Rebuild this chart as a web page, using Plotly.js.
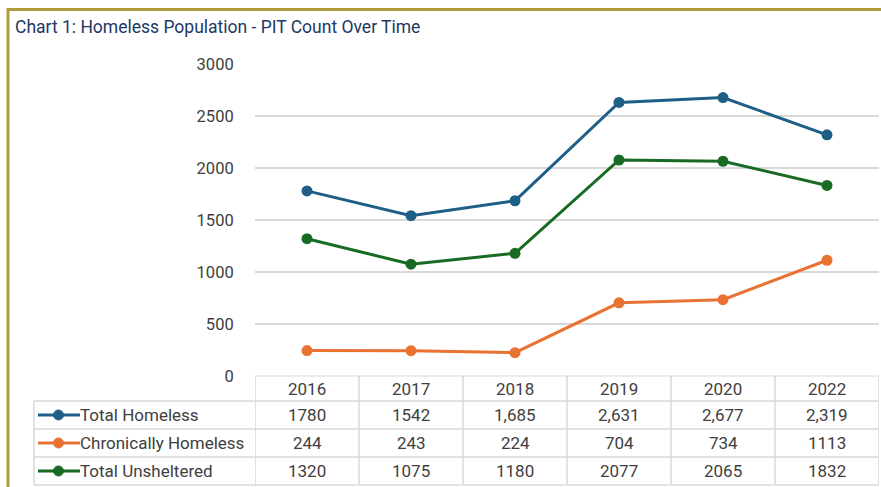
<!DOCTYPE html>
<html>
<head>
<meta charset="utf-8">
<script src="https://cdn.plot.ly/plotly-3.0.1.min.js"></script>
<style>html,body{margin:0;padding:0;background:#fff;}#chart{width:881px;height:487px;}</style>
</head>
<body>
<div id="chart"></div>
<script>
const years = ["2016", "2017", "2018", "2019", "2020", "2022"];
const totalHomeless = [1780, 1542, 1685, 2631, 2677, 2319];
const chronicallyHomeless = [244, 243, 224, 704, 734, 1113];
const totalUnsheltered = [1320, 1075, 1180, 2077, 2065, 1832];
const totalHomelessLabels = ["1780", "1542", "1,685", "2,631", "2,677", "2,319"];
const chronicallyHomelessLabels = ["244", "243", "224", "704", "734", "1113"];
const totalUnshelteredLabels = ["1320", "1075", "1180", "2077", "2065", "1832"];
const seriesNames = ["Total Homeless", "Chronically Homeless", "Total Unsheltered"];
const seriesColors = ["#1f5f87", "#e97132", "#196b24"];
const yTicks = [0, 500, 1000, 1500, 2000, 2500, 3000];

const W = 881, H = 487;
const px = x => x / W;
const py = y => 1 - y / H;

const FONT = "Roboto, 'Open Sans', sans-serif";
const seriesValues = [totalHomeless, chronicallyHomeless, totalUnsheltered];
const seriesLabels = [totalHomelessLabels, chronicallyHomelessLabels, totalUnshelteredLabels];

const traces = seriesValues.map((vals, i) => ({
  type: "scatter", mode: "lines+markers", name: seriesNames[i],
  x: years, y: vals,
  line: {color: seriesColors[i], width: 3},
  marker: {color: seriesColors[i], size: 11},
  hoverinfo: "x+y+name"
}));

const gridC = "#d9d9d9";
const shapes = [];
// gold frame
shapes.push({type: "line", xref: "paper", yref: "paper", x0: px(7), x1: 1, y0: py(9.5), y1: py(9.5), line: {color: "#b09a3c", width: 3}});
shapes.push({type: "line", xref: "paper", yref: "paper", x0: px(8), x1: px(8), y0: py(8), y1: 0, line: {color: "#b09a3c", width: 3}});

// table lines
const rowY = [376, 401, 429, 457, 485];
shapes.push({type: "line", xref: "x", yref: "paper", x0: -0.5, x1: years.length - 0.5, y0: py(rowY[0]), y1: py(rowY[0]), line: {color: gridC, width: 1}});
for (let r = 1; r < rowY.length; r++) {
  shapes.push({type: "line", xref: "paper", yref: "paper", x0: px(34), x1: px(879), y0: py(rowY[r]), y1: py(rowY[r]), line: {color: gridC, width: 1.5}});
}
shapes.push({type: "line", xref: "paper", yref: "paper", x0: px(34), x1: px(34), y0: py(401), y1: py(485), line: {color: gridC, width: 1.5}});
for (let c = 0; c <= years.length; c++) {
  shapes.push({type: "line", xref: "x", yref: "paper", x0: c - 0.5, x1: c - 0.5, y0: py(376), y1: py(485), line: {color: gridC, width: 1.5}});
}

const annotations = [];
annotations.push({text: "Chart 1: Homeless Population - PIT Count Over Time", xref: "paper", yref: "paper", x: px(13), y: py(27), xanchor: "left", yanchor: "middle", showarrow: false, font: {family: FONT, size: 17.5, color: "#203864"}});

const cellFont = {family: FONT, size: 17, color: "#404040"};
years.forEach((yr, c) => {
  annotations.push({text: yr, xref: "x", yref: "paper", x: c, y: py(389), showarrow: false, xanchor: "center", yanchor: "middle", font: cellFont});
});
const rowCenters = [415, 443, 471];
seriesLabels.forEach((labs, r) => {
  labs.forEach((t, c) => {
    annotations.push({text: t, xref: "x", yref: "paper", x: c, y: py(rowCenters[r]), showarrow: false, xanchor: "center", yanchor: "middle", font: cellFont});
  });
  annotations.push({text: seriesNames[r], xref: "paper", yref: "paper", x: px(78), y: py(rowCenters[r]), showarrow: false, xanchor: "left", yanchor: "middle", font: cellFont});
  shapes.push({type: "line", xref: "paper", yref: "paper", x0: px(38), x1: px(80), y0: py(rowCenters[r]), y1: py(rowCenters[r]), line: {color: seriesColors[r], width: 3}});
  shapes.push({type: "circle", xref: "paper", yref: "paper", xsizemode: "pixel", ysizemode: "pixel", xanchor: px(58.5), yanchor: py(rowCenters[r]), x0: -5, x1: 5, y0: -5, y1: 5, fillcolor: seriesColors[r], line: {color: seriesColors[r], width: 1}});
});

const layout = {
  width: W, height: H,
  margin: {l: 0, r: 0, t: 0, b: 0},
  paper_bgcolor: "#ffffff", plot_bgcolor: "#ffffff",
  showlegend: false,
  font: {family: FONT, color: "#404040"},
  xaxis: {
    type: "category", domain: [px(255), px(879)], range: [-0.5, years.length - 0.5],
    showticklabels: false, showgrid: false, zeroline: false, showline: false, fixedrange: true
  },
  yaxis: {
    domain: [py(376), py(64)], range: [0, 3000],
    tickvals: yTicks, ticktext: yTicks.map(String),
    showgrid: true, gridcolor: gridC, gridwidth: 1.5,
    zeroline: false, showline: false,
    ticks: "outside", ticklen: 17, tickcolor: "rgba(0,0,0,0)",
    tickfont: {family: FONT, size: 16.5, color: "#404040"}, fixedrange: true
  },
  shapes: shapes,
  annotations: annotations
};

Plotly.newPlot("chart", traces, layout, {displayModeBar: false, staticPlot: true});
</script>
</body>
</html>
